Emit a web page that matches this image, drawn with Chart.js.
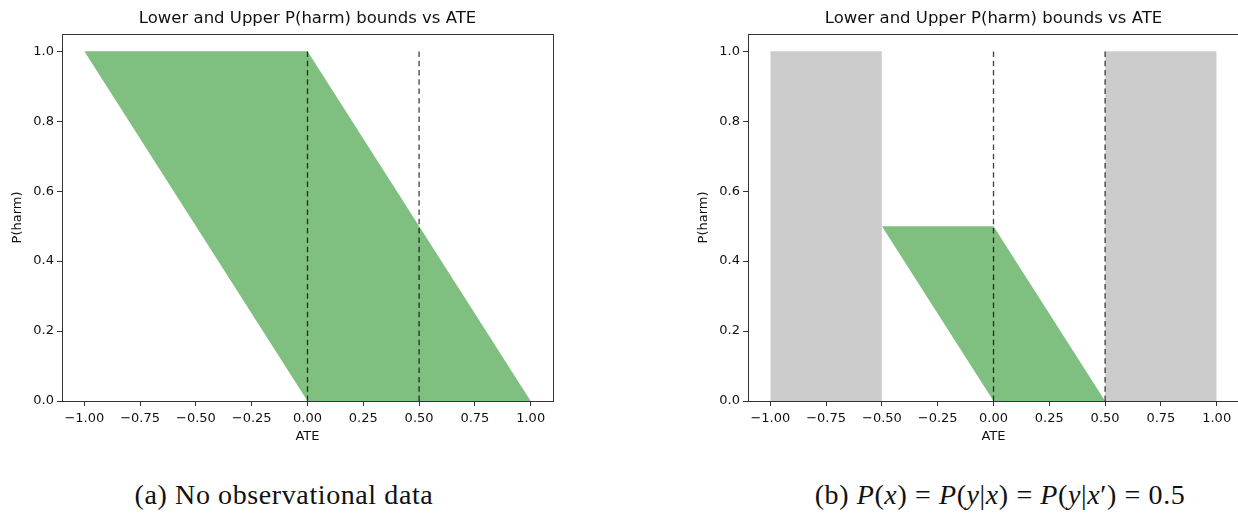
<!DOCTYPE html>
<html>
<head>
<meta charset="utf-8">
<script src="https://cdn.jsdelivr.net/npm/chart.js@4.4.1/dist/chart.umd.min.js"></script>
<style>
    html, body { margin: 0; padding: 0; background: #fff; }
    body { width: 1238px; height: 514px; position: relative; overflow: hidden; }
    canvas { position: absolute; top: 0; }
    .caption {
        position: absolute;
        top: 480px;
        transform: translateX(-50%);
        white-space: nowrap;
        font-family: "Liberation Serif", "DejaVu Serif", serif;
        font-size: 28px;
        line-height: 30px;
        letter-spacing: 0.6px;
        color: #111;
    }
    .caption i { font-style: italic; }
</style>
</head>
<body>
<canvas id="chartA" width="620" height="445" style="left:0px;width:620px;height:445px"></canvas>
<canvas id="chartB" width="620" height="445" style="left:686px;width:620px;height:445px"></canvas>
<div class="caption" style="left:284px">(a) No observational data</div>
<div class="caption" style="left:1000px">(b) <i>P</i>(<i>x</i>) = <i>P</i>(<i>y</i>|<i>x</i>) = <i>P</i>(<i>y</i>|<i>x</i>′) = 0.5</div>

<script>
// (a) bounds with no observational data
const ateA = [-1, 0, 1];
const lowerA = [1, 0, 0];
const upperA = [1, 1, 0];
const markersA = [0, 0.5];

// (b) bounds with P(x) = P(y|x) = P(y|x') = 0.5
const ateB = [-0.5, 0, 0.5];
const lowerB = [0.5, 0, 0];
const upperB = [0.5, 0.5, 0];
const markersB = [0, 0.5];
// ATE ranges ruled out by the data, shaded grey up to P(harm) = 1
const excludedB = [[-1, -0.5], [0.5, 1]];

const xTicks = [-1, -0.75, -0.5, -0.25, 0, 0.25, 0.5, 0.75, 1];
const yTicks = [0, 0.2, 0.4, 0.6, 0.8, 1];

const titleText = 'Lower and Upper P(harm) bounds vs ATE';
const green = 'rgba(0, 128, 0, 0.5)';
const grey = 'rgba(128, 128, 128, 0.4)';
const ink = '#333';
const font = { family: '"DejaVu Sans", sans-serif', size: 13 };

const points = (xs, ys) => xs.map((x, i) => ({ x: x, y: ys[i] }));

// box around the plotting area, like matplotlib spines
const frame = {
    id: 'frame',
    afterDraw(chart) {
        const { ctx, chartArea: a } = chart;
        ctx.save();
        ctx.strokeStyle = ink;
        ctx.lineWidth = 1;
        ctx.strokeRect(Math.round(a.left) + 0.5, Math.round(a.top) + 0.5,
            Math.round(a.right - a.left), Math.round(a.bottom - a.top));
        ctx.restore();
    }
};

function markerLines(xs) {
    return xs.map(x => ({
        data: [{ x: x, y: 0 }, { x: x, y: 1 }],
        borderColor: 'rgba(0, 0, 0, 0.75)',
        borderWidth: 1.3,
        borderDash: [5.5, 3.8],
        pointRadius: 0,
        fill: false,
        order: 0
    }));
}

function boundsSets(xs, lower, upper) {
    return [
        {
            data: points(xs, upper),
            borderWidth: 0,
            borderColor: 'rgba(0,0,0,0)',
            backgroundColor: green,
            pointRadius: 0,
            fill: '+1',
            order: 1
        },
        {
            data: points(xs, lower),
            borderWidth: 0,
            borderColor: 'rgba(0,0,0,0)',
            pointRadius: 0,
            fill: false,
            order: 1
        }
    ];
}

function greyBlocks(ranges) {
    return ranges.map(r => ({
        data: [{ x: r[0], y: 1 }, { x: r[1], y: 1 }],
        borderWidth: 0,
        borderColor: 'rgba(0,0,0,0)',
        backgroundColor: grey,
        pointRadius: 0,
        fill: 'origin',
        order: 2
    }));
}

function makeChart(id, datasets) {
    const ctx = document.getElementById(id).getContext('2d');
    return new Chart(ctx, {
        type: 'line',
        data: { datasets: datasets },
        plugins: [frame],
        options: {
            responsive: false,
            animation: false,
            devicePixelRatio: 1,
            layout: { padding: { left: 0, top: 0, right: 67, bottom: 0 } },
            elements: { line: { tension: 0 } },
            scales: {
                x: {
                    type: 'linear',
                    min: -1.1,
                    max: 1.1,
                    border: { display: false },
                    grid: { drawOnChartArea: false, drawTicks: true, tickLength: 5, color: ink },
                    afterBuildTicks: s => { s.ticks = xTicks.map(v => ({ value: v })); },
                    afterFit: s => { s.height = 44; },
                    ticks: {
                        padding: 5,
                        color: '#111',
                        font: font,
                        maxRotation: 0,
                        callback: v => v.toFixed(2).replace('-', '\u2212')
                    },
                    title: { display: true, text: 'ATE', color: '#111', font: font, padding: { top: 0, bottom: 1 } }
                },
                y: {
                    type: 'linear',
                    min: 0,
                    max: 1.05,
                    border: { display: false },
                    grid: { drawOnChartArea: false, drawTicks: true, tickLength: 5, color: ink },
                    afterBuildTicks: s => { s.ticks = yTicks.map(v => ({ value: v })); },
                    afterFit: s => { s.width = 62; },
                    ticks: {
                        padding: 3,
                        color: '#111',
                        font: font,
                        callback: v => v.toFixed(1)
                    },
                    title: { display: true, text: 'P(harm)', color: '#111', font: font, padding: { top: 10, bottom: 0 } }
                }
            },
            plugins: {
                legend: { display: false },
                tooltip: { enabled: false },
                title: {
                    display: true,
                    fullSize: false,
                    text: titleText,
                    color: '#111',
                    font: { family: font.family, size: 16.5, weight: 'normal' },
                    padding: { top: 9, bottom: 5 }
                }
            }
        }
    });
}

makeChart('chartA', [...markerLines(markersA), ...boundsSets(ateA, lowerA, upperA)]);
makeChart('chartB', [...markerLines(markersB), ...boundsSets(ateB, lowerB, upperB), ...greyBlocks(excludedB)]);
</script>
</body>
</html>
